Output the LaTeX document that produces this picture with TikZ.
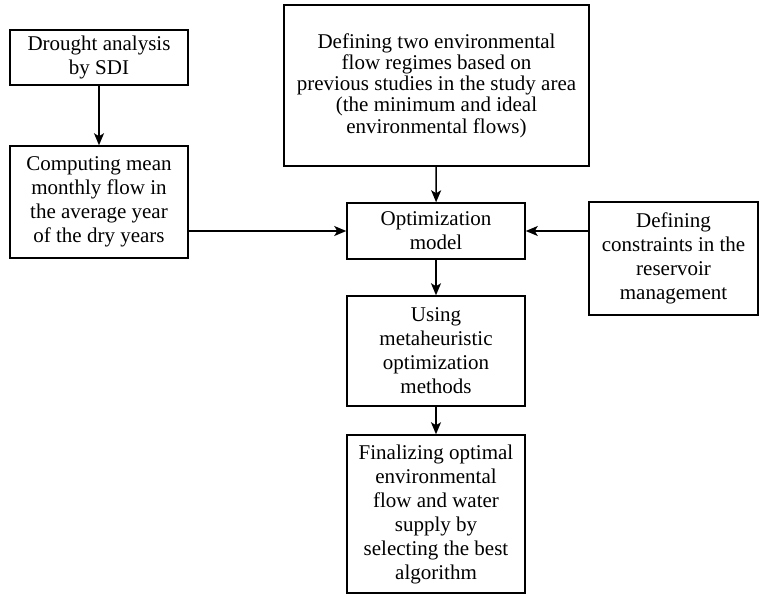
\documentclass[tikz,border=0pt]{standalone}
\usepackage{fontspec}
\setmainfont{Liberation Serif}
\usetikzlibrary{arrows.meta}
\begin{document}
\begin{tikzpicture}[x=1pt,y=-1pt,
  box/.style={draw,line width=1.5pt,align=center,inner sep=0pt,
    font=\fontsize{21}{24}\selectfont},
  arr/.style={line width=1.5pt,-{Stealth[length=12pt,width=10pt,inset=3pt]}}]
\useasboundingbox (0,0) rectangle (759,595);
\node[box,minimum width=178pt,minimum height=55pt] (sdi) at (99,57.5) {Drought analysis\\by SDI};
\node[box,minimum width=178pt,minimum height=112pt] (mean) at (99,202) {Computing mean\\monthly flow in\\the average year\\of the dry years};
\node[box,minimum width=305pt,minimum height=161pt,font=\fontsize{21}{21.3}\selectfont] (env) at (436.5,85.5) {Defining two environmental\\flow regimes based on\\previous studies in the study area\\(the minimum and ideal\\environmental flows)};
\node[box,minimum width=178pt,minimum height=56pt] (opt) at (436,231) {Optimization\\model};
\node[box,minimum width=169pt,minimum height=113pt] (cons) at (673.5,258.5) {Defining\\constraints in the\\reservoir\\management};
\node[box,minimum width=178pt,minimum height=110pt] (meta) at (436,351) {Using\\metaheuristic\\optimization\\methods};
\node[box,minimum width=178pt,minimum height=158pt] (fin) at (436,514) {Finalizing optimal\\environmental\\flow and water\\supply by\\selecting the best\\algorithm};
\draw[arr] (sdi) -- (mean);
\draw[arr] (mean.east |- opt.west) -- (opt.west);
\draw[arr] (env) -- (opt);
\draw[arr] (cons.west |- opt.east) -- (opt.east);
\draw[arr] (opt) -- (meta);
\draw[arr] (meta) -- (fin);
\end{tikzpicture}
\end{document}
